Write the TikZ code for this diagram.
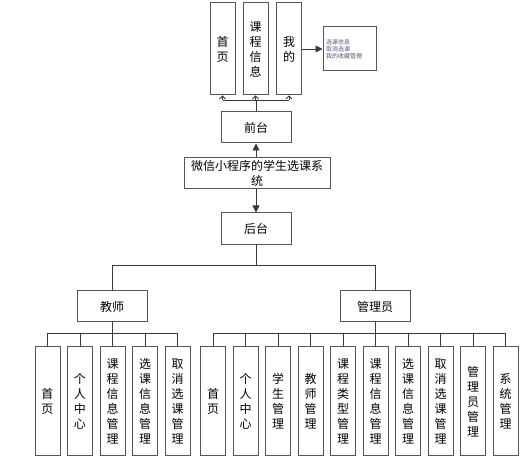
\documentclass[tikz,border=0pt]{standalone}
\usepackage{fontspec}
\setmainfont{Noto Sans CJK SC}
\usepackage{xcolor}
\usetikzlibrary{arrows.meta, positioning, calc}
\definecolor{kbox}{HTML}{555555}
\definecolor{kline}{HTML}{3A3A3A}
\definecolor{knote}{HTML}{55557A}

\tikzset{
  hbox/.style={draw=kbox, line width=1pt, minimum width=70pt, minimum height=31pt,
    inner sep=0pt, align=center, font=\fontsize{12}{15}\selectfont},
  vbox/.style={draw=kbox, line width=1pt, minimum width=25pt, minimum height=109pt,
    inner sep=0pt, align=center, font=\fontsize{12}{15}\selectfont},
  link/.style={draw=kline, line width=0.8pt},
}

\begin{document}
\begin{tikzpicture}[x=1pt, y=-1pt]
  \useasboundingbox (0,0) rectangle (523,462);

  %% front end
  \node[vbox, minimum height=92pt] (f1) at (222.5,49) {首\\页};
  \node[vbox, minimum height=92pt] (f2) at (255.5,49) {课\\程\\信\\息};
  \node[vbox, minimum height=92pt] (f3) at (289,49) {我\\的};
  \node[draw=kbox, line width=1pt, minimum width=53pt, minimum height=44pt, inner sep=2pt,
    text width=47pt, align=left, text=knote, font=\fontsize{6}{7}\selectfont]
    (note) at (349.5,49) {选课信息\\取消选课\\我的收藏管理};
  \node[hbox] (qiantai) at (256,127.5) {前台};
  \node[hbox, minimum width=146pt] (sys) at (257,173.5) {微信小程序的学生选课系\\统};
  \node[hbox, minimum height=32pt] (houtai) at (256,229) {后台};

  %% roles
  \node[hbox] (jiaoshi) at (112,306.5) {教师};
  \node[hbox] (guanli) at (375,306.5) {管理员};

  %% teacher modules
  \foreach \i/\t in {1/{首\\页}, 2/{个\\人\\中\\心}, 3/{课\\程\\信\\息\\管\\理},
                     4/{选\\课\\信\\息\\管\\理}, 5/{取\\消\\选\\课\\管\\理}}{
    \node[vbox] (t\i) at ({47.5+(\i-1)*32.5},401.5) {\t};
  }

  %% admin modules
  \foreach \i/\t in {1/{首\\页}, 2/{个\\人\\中\\心}, 3/{学\\生\\管\\理}, 4/{教\\师\\管\\理},
                     5/{课\\程\\类\\型\\管\\理}, 6/{课\\程\\信\\息\\管\\理},
                     7/{选\\课\\信\\息\\管\\理}, 8/{取\\消\\选\\课\\管\\理},
                     9/{管\\理\\员\\管\\理}, 10/{系\\统\\管\\理}}{
    \node[vbox] (a\i) at ({213+(\i-1)*32.5},401.5) {\t};
  }

  %% connectors
  \draw[link] (qiantai.north) -- (qiantai.north |- 0,100);
  \draw[link] (f1.south |- 0,100) -- (f3.south |- 0,100);
  \foreach \n in {f1,f2,f3}{
    \draw[link, -{Straight Barb[length=3pt, width=6pt]}] (\n.south |- 0,100) -- (\n.south);
  }
  \draw[link, -{Triangle[length=7pt, width=7pt]}] (f3.east |- note.west) -- (note.west);
  \draw[link, -{Triangle[length=7pt, width=7pt]}] (sys.north -| qiantai.south) -- (qiantai.south);
  \draw[link, -{Triangle[length=7pt, width=7pt]}] (sys.south -| houtai.north) -- (houtai.north);

  \draw[link] (houtai.south) -- (houtai.south |- 0,265);
  \draw[link] (jiaoshi.north) |- (guanli.north |- 0,265) -- (guanli.north);

  \draw[link] (jiaoshi.south) -- (jiaoshi.south |- 0,333);
  \draw[link] (t1.north) |- (t5.north |- 0,333) -- (t5.north);
  \foreach \i in {2,3,4}{
    \draw[link] (t\i.north) -- (t\i.north |- 0,333);
  }

  \draw[link] (guanli.south) -- (guanli.south |- 0,333);
  \draw[link] (a1.north) |- (a10.north |- 0,333) -- (a10.north);
  \foreach \i in {2,...,9}{
    \draw[link] (a\i.north) -- (a\i.north |- 0,333);
  }

\end{tikzpicture}
\end{document}
